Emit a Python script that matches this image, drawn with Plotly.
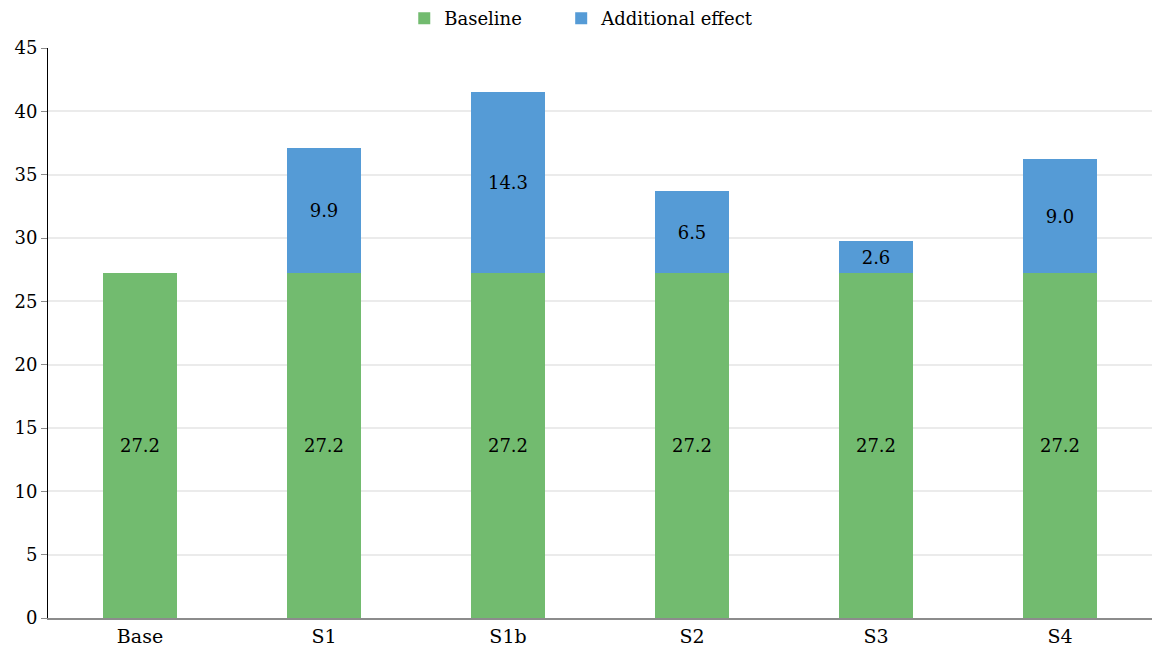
import plotly.graph_objects as go

categories = ["Base", "S1", "S1b", "S2", "S3", "S4"]
baseline = [27.2, 27.2, 27.2, 27.2, 27.2, 27.2]
additional = [None, 9.9, 14.3, 6.5, 2.6, 9.0]
series_names = ["Baseline" + "\u00a0" * 6, "Additional effect"]

font_family = "DejaVu Serif"

fig = go.Figure()
fig.add_trace(go.Bar(
    x=categories, y=baseline, name=series_names[0],
    marker=dict(color="#72BB6F", line=dict(width=0)),
    text=[f"{v:.1f}" for v in baseline],
    textposition="inside", insidetextanchor="middle",
    textfont=dict(color="black", size=18, family=font_family),
    textangle=0,
))
fig.add_trace(go.Bar(
    x=categories, y=additional, name=series_names[1],
    marker=dict(color="#559BD6", line=dict(width=0)),
    text=["" if v is None else f"{v:.1f}" for v in additional],
    textposition="inside", insidetextanchor="middle",
    textfont=dict(color="black", size=18, family=font_family),
    textangle=0,
))

fig.update_layout(
    barmode="stack",
    bargap=0.6,
    width=1152, height=659,
    margin=dict(l=48, r=0, t=48, b=41, autoexpand=False),
    paper_bgcolor="white", plot_bgcolor="white",
    font=dict(family=font_family, size=18, color="black"),
    uniformtext=dict(minsize=10, mode="show"),
    legend=dict(
        orientation="h", x=0.505, xanchor="center",
        xref="container", yref="container",
        y=1.0, yanchor="top",
        font=dict(size=18, family=font_family),
        itemwidth=30,
        traceorder="normal",
    ),
    xaxis=dict(
        showline=True, linecolor="#8C8C8C", linewidth=2,
        ticks="", showgrid=False,
        tickfont=dict(size=19),
    ),
    yaxis=dict(
        range=[0, 45], dtick=5,
        showline=True, linecolor="black", linewidth=1,
        ticks="outside", ticklen=6, tickcolor="#8C8C8C",
        showgrid=True, gridcolor="#EBEBEB", gridwidth=1.5,
        zeroline=False,
        tickfont=dict(size=18),
    ),
)

fig.write_html("out.html")
